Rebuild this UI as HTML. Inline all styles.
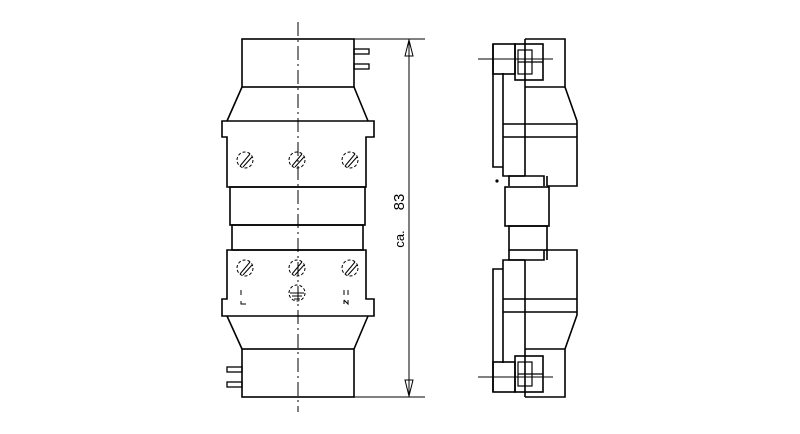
<!DOCTYPE html>
<html><head><meta charset="utf-8"><style>html,body{margin:0;padding:0;background:#fff}svg{display:block}</style></head>
<body>
<svg width="800" height="434" viewBox="0 0 800 434" xmlns="http://www.w3.org/2000/svg" fill="none" stroke="#000" stroke-width="1.6">
<!-- LEFT VIEW -->
<rect x="242" y="39" width="112" height="48"/>
<rect x="354" y="49" width="15" height="5" stroke-width="1.3"/>
<rect x="354" y="64" width="15" height="5" stroke-width="1.3"/>
<path d="M242 87 L227 121 M354 87 L368 121"/>
<path d="M227 137 L222 137 L222 121 L374 121 L374 137 L366 137 L366 187 L227 187 Z"/>
<rect x="230" y="187" width="135" height="38"/>
<rect x="232" y="225" width="131" height="25"/>
<path d="M227 250 L366 250 L366 299 L374 299 L374 316 L222 316 L222 299 L227 299 Z"/>
<path d="M227 316 L242 349 M368 316 L354 349"/>
<rect x="242" y="349" width="112" height="48"/>
<rect x="227" y="367" width="15" height="5" stroke-width="1.3"/>
<rect x="227" y="382" width="15" height="5" stroke-width="1.3"/>
<line x1="298" y1="22" x2="298" y2="412" stroke-width="1" stroke-dasharray="14,4,2,4"/>
<g stroke-width="1" stroke-dasharray="3,2">
<circle cx="245" cy="160" r="8"/><circle cx="297" cy="160" r="8"/><circle cx="350" cy="160" r="8"/>
<circle cx="245" cy="268" r="8"/><circle cx="297" cy="268" r="8"/><circle cx="350" cy="268" r="8"/>
<circle cx="297" cy="293" r="8"/>
</g>
<g stroke-width="1">
<path d="M240 166 L250 154 M243 167 L252 157 M292 166 L302 154 M295 167 L304 157 M345 166 L355 154 M348 167 L357 157"/>
<path d="M240 274 L250 262 M243 275 L252 265 M292 274 L302 262 M295 275 L304 265 M345 274 L355 262 M348 275 L357 265"/>
<path d="M290 293 L304 293 M292 296 L302 296 M294 299 L300 299"/>
<path d="M241 290 L241 295 M241 301 L241 304 L246 304 M344 290 L344 295 M348 290 L348 295 M344 300 L344 304 M344 300 L348 304 L348 300"/>
</g>
<!-- dimension -->
<g stroke-width="1">
<line x1="354" y1="39" x2="425" y2="39"/><line x1="354" y1="397" x2="425" y2="397"/>
<line x1="409" y1="39" x2="409" y2="397"/>
<path d="M405 56 L409 40 L413 56 Z M405 380 L409 396 L413 380 Z"/>
</g>
<text transform="translate(404,202) rotate(-90)" font-family="Liberation Sans, sans-serif" font-size="15" fill="#000" stroke="none" text-anchor="middle">83</text>
<text transform="translate(404,239) rotate(-90)" font-family="Liberation Sans, sans-serif" font-size="13" fill="#000" stroke="none" text-anchor="middle">ca.</text>
<!-- RIGHT VIEW -->
<g id="top">
<path d="M525 39 L565 39 L565 87 L577 121 L577 186 L547 186"/>
<line x1="565" y1="87" x2="525" y2="87"/>
<line x1="525" y1="39" x2="525" y2="176"/>
<path d="M503 73 L503 176 L525 176"/>
<path d="M493 44 L493 167 L503 167"/>
<rect x="493" y="44" width="22" height="30"/>
<rect x="515" y="44" width="28" height="36"/>
<rect x="518" y="50" width="14" height="24" stroke-width="1.2"/>
<line x1="518" y1="62" x2="543" y2="62" stroke-width="1.2"/>
<line x1="503" y1="124" x2="577" y2="124"/>
<line x1="503" y1="137" x2="577" y2="137"/>
<path d="M509 186 L509 176 L544 176 L544 186 M547 176 L547 186"/>
<line x1="478" y1="59" x2="553" y2="59" stroke-width="1"/>
</g>
<use href="#top" transform="matrix(1,0,0,-1,0,436)"/>
<rect x="505" y="187" width="44" height="39"/>
<rect x="509" y="226" width="38" height="24"/>
<circle cx="497" cy="181" r="0.8" fill="#000"/>
</svg>
</body></html>
